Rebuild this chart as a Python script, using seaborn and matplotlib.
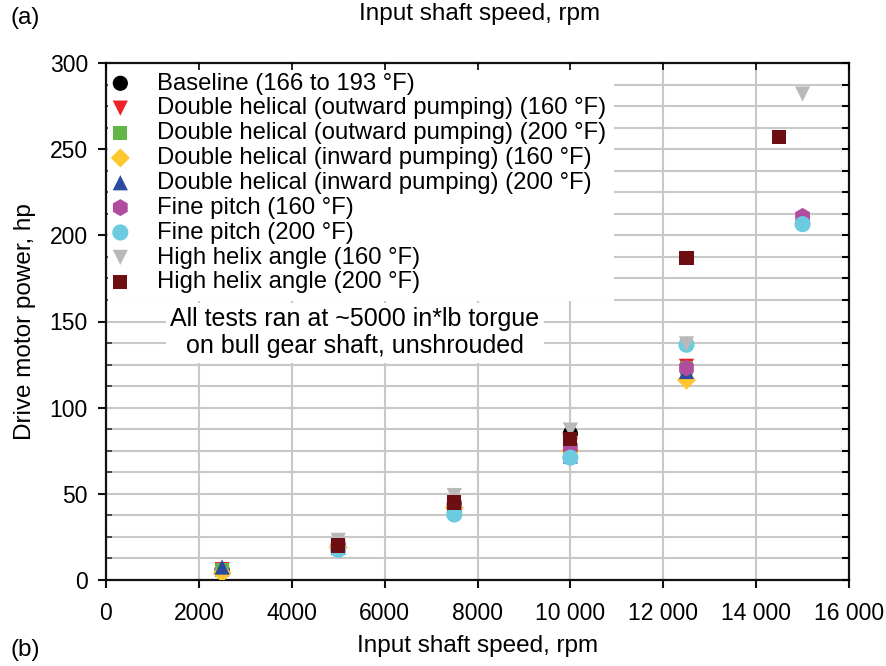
import matplotlib
matplotlib.use("Agg")
import matplotlib.pyplot as plt
import seaborn as sns
import pandas as pd
import numpy as np
from matplotlib.ticker import MultipleLocator

# ---- data ----
series_names = [
    "Baseline (166 to 193 °F)",
    "Double helical (outward pumping) (160 °F)",
    "Double helical (outward pumping) (200 °F)",
    "Double helical (inward pumping) (160 °F)",
    "Double helical (inward pumping) (200 °F)",
    "Fine pitch (160 °F)",
    "Fine pitch (200 °F)",
    "High helix angle (160 °F)",
    "High helix angle (200 °F)",
]
baseline_x = [2500, 5000, 7500, 10000]
baseline_y = [6, 20, 44, 85]
dh_out_160_x = [2500, 5000, 7500, 10000, 12500]
dh_out_160_y = [6, 19, 42, 78, 124]
dh_out_200_x = [2500, 5000, 7500, 10000, 12500]
dh_out_200_y = [6, 19, 42, 74, 123]
dh_in_160_x = [2500, 5000, 7500, 10000, 12500]
dh_in_160_y = [4, 19, 42, 75, 116]
dh_in_200_x = [2500, 5000, 7500, 10000, 12500]
dh_in_200_y = [7.5, 19, 41, 72, 121]
fine_160_x = [5000, 7500, 10000, 12500, 15000]
fine_160_y = [20, 42, 77, 123, 211]
fine_200_x = [5000, 7500, 10000, 12500, 15000]
fine_200_y = [17.5, 38, 71, 136.5, 206.5]
hha_160_x = [5000, 7500, 10000, 12500, 15000]
hha_160_y = [23, 49, 87, 137, 282]
hha_200_x = [5000, 7500, 10000, 12500, 14500]
hha_200_y = [20, 45, 82, 187, 257]

xtick_vals = [0, 2000, 4000, 6000, 8000, 10000, 12000, 14000, 16000]
xtick_labels = ["0", "2000", "4000", "6000", "8000", "10 000", "12 000", "14 000", "16 000"]
ytick_vals = [0, 50, 100, 150, 200, 250, 300]

colors = ["#000000", "#ee2128", "#62b647", "#fdc72d", "#2c4a9e",
          "#b04d9f", "#6ccbde", "#b9b9b9", "#6c0e12"]
markers = ["o", "v", "s", "D", "^", "h", "o", "v", "s"]
sizes = [120, 120, 100, 95, 120, 150, 135, 120, 105]

xs = [baseline_x, dh_out_160_x, dh_out_200_x, dh_in_160_x, dh_in_200_x,
      fine_160_x, fine_200_x, hha_160_x, hha_200_x]
ys = [baseline_y, dh_out_160_y, dh_out_200_y, dh_in_160_y, dh_in_200_y,
      fine_160_y, fine_200_y, hha_160_y, hha_200_y]

sns.set_style("ticks")
plt.rcParams["font.family"] = ["Liberation Sans", "DejaVu Sans"]
plt.rcParams["text.color"] = "black"
plt.rcParams["axes.labelcolor"] = "black"
plt.rcParams["xtick.color"] = "black"
plt.rcParams["ytick.color"] = "black"

fig = plt.figure(figsize=(8.86, 6.66), dpi=100)
ax = fig.add_axes([106 / 886, 86 / 666, (849 - 106) / 886, (580 - 63) / 666])

for name, x, y, c, m, s in zip(series_names, xs, ys, colors, markers, sizes):
    df = pd.DataFrame({"x": x, "y": y})
    sns.scatterplot(data=df, x="x", y="y", ax=ax, color=c, marker=m, s=s,
                    edgecolor="none", linewidth=0, label=name, zorder=3)

ax.set_xlim(0, 16000)
ax.set_ylim(0, 300)
ax.set_xticks(xtick_vals)
ax.set_xticklabels(xtick_labels)
ax.set_yticks(ytick_vals)
ax.yaxis.set_minor_locator(MultipleLocator(12.5))
ax.grid(True, axis="x", which="major", color="#c8c8c8", linewidth=1.5, zorder=0)
ax.grid(True, axis="y", which="both", color="#c8c8c8", linewidth=1.5, zorder=0)
ax.set_axisbelow(True)

for sp in ax.spines.values():
    sp.set_linewidth(1.6)
    sp.set_color("#111111")

ax.tick_params(axis="both", which="major", direction="out", length=6, width=1.5,
               labelsize=16.5, pad=7, color="#111111", labelcolor="black")
ax.tick_params(axis="y", which="minor", direction="in", length=4, width=1.2, color="#333333")
ax.tick_params(axis="x", which="major", pad=10)

# inward ticks on top and right
axr = ax.twinx()
axr.set_ylim(0, 300)
axr.set_yticks(np.arange(0, 301, 12.5))
axr.tick_params(axis="y", direction="in", length=5, width=1.5, labelright=False)
axt = ax.twiny()
axt.set_xlim(0, 16000)
axt.set_xticks(xtick_vals)
axt.tick_params(axis="x", direction="in", length=5, width=1.2, labeltop=False)
for a in (axr, axt):
    for sp in a.spines.values():
        sp.set_visible(False)

ax.set_xlabel("Input shaft speed, rpm", fontsize=17.5, labelpad=7)
ax.set_ylabel("Drive motor power, hp", fontsize=17.5, labelpad=10)

leg = ax.legend(loc="upper left", bbox_to_anchor=(0.0, 1.0), fontsize=17.2,
                frameon=True, fancybox=False, framealpha=1, edgecolor="none",
                facecolor="white", labelspacing=0.12, handletextpad=1.35,
                borderpad=0.3, borderaxespad=0.1, handlelength=0.4,
                markerscale=1.0)
for t in leg.get_texts():
    t.set_color("black")
leg.set_zorder(5)

ax.text(0.335, 0.478, "All tests ran at ~5000 in*lb torgue\non bull gear shaft, unshrouded",
        transform=ax.transAxes, ha="center", va="center", fontsize=18, linespacing=1.15,
        zorder=6, bbox=dict(facecolor="white", edgecolor="none", pad=3))

fig.text(480 / 886, 1 - 14 / 666, "Input shaft speed, rpm", ha="center", va="center", fontsize=17.5)
fig.text(11 / 886, 1 - 18 / 666, "(a)", ha="left", va="center", fontsize=17.5)
fig.text(11 / 886, 1 - 650 / 666, "(b)", ha="left", va="center", fontsize=17.5)

fig.savefig("out.png", dpi=100)
